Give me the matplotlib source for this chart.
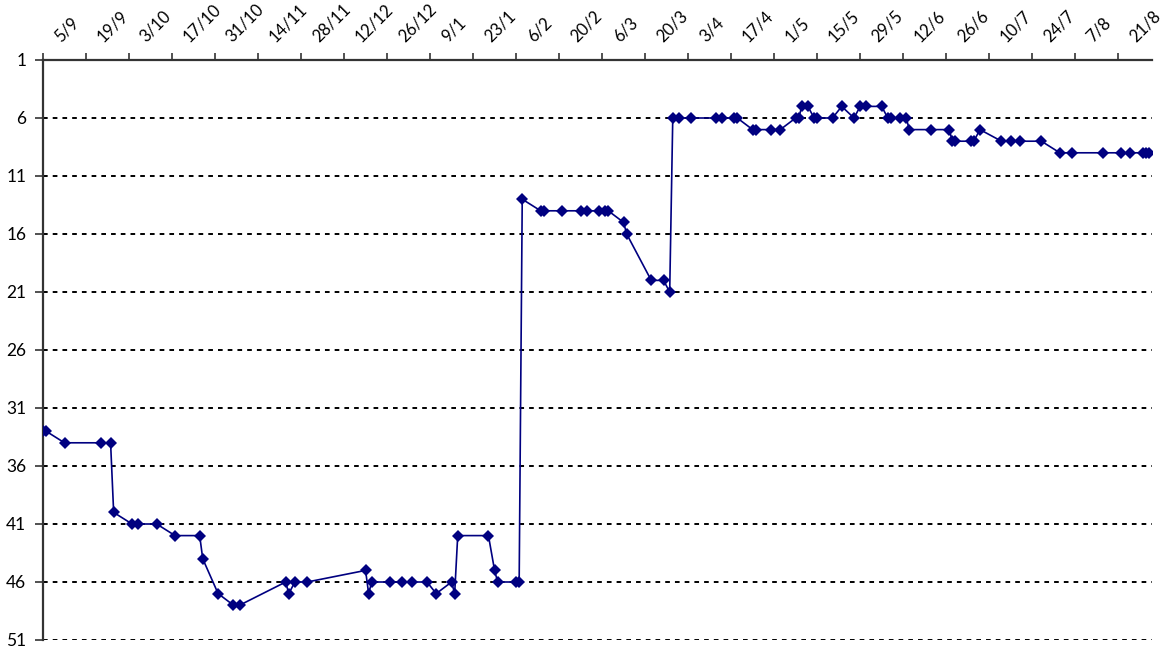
import pandas as pd
import matplotlib
matplotlib.use("Agg")
import matplotlib.pyplot as plt
import matplotlib.transforms as mtransforms

plt.rcParams["font.family"] = ["Lato", "DejaVu Sans"]

# chart position per date (lower number = better)
dates = [
    "2022-09-05", "2022-09-06", "2022-09-12", "2022-09-24", "2022-09-27", "2022-09-28",
    "2022-10-04", "2022-10-06", "2022-10-12", "2022-10-18", "2022-10-26", "2022-10-27",
    "2022-11-01", "2022-11-06", "2022-11-08", "2022-11-23", "2022-11-24", "2022-11-26",
    "2022-11-30", "2022-12-19", "2022-12-20", "2022-12-21", "2022-12-27", "2022-12-31",
    "2023-01-03", "2023-01-08", "2023-01-11", "2023-01-16", "2023-01-17", "2023-01-18",
    "2023-01-28", "2023-01-30", "2023-01-31", "2023-02-06", "2023-02-07", "2023-02-08",
    "2023-02-14", "2023-02-15", "2023-02-21", "2023-02-27", "2023-03-01", "2023-03-05",
    "2023-03-07", "2023-03-08", "2023-03-13", "2023-03-14", "2023-03-22", "2023-03-26",
    "2023-03-28", "2023-03-29", "2023-03-31", "2023-04-04", "2023-04-12", "2023-04-14",
    "2023-04-18", "2023-04-19", "2023-04-24", "2023-04-25", "2023-04-30", "2023-05-03",
    "2023-05-08", "2023-05-09", "2023-05-10", "2023-05-12", "2023-05-14", "2023-05-15",
    "2023-05-20", "2023-05-23", "2023-05-27", "2023-05-29", "2023-05-31", "2023-06-05",
    "2023-06-07", "2023-06-08", "2023-06-11", "2023-06-13", "2023-06-14", "2023-06-21",
    "2023-06-27", "2023-06-28", "2023-06-29", "2023-07-04", "2023-07-05", "2023-07-07",
    "2023-07-14", "2023-07-17", "2023-07-20", "2023-07-27", "2023-08-02", "2023-08-06",
    "2023-08-16", "2023-08-22", "2023-08-25", "2023-08-29", "2023-08-30", "2023-08-31",
]
positions = [
    33, 33, 34, 34, 34, 40,
    41, 41, 41, 42, 42, 44,
    47, 48, 48, 46, 47, 46,
    46, 45, 47, 46, 46, 46,
    46, 46, 47, 46, 47, 42,
    42, 45, 46, 46, 46, 13,
    14, 14, 14, 14, 14, 14,
    14, 14, 15, 16, 20, 20,
    21, 6, 6, 6, 6, 6,
    6, 6, 7, 7, 7, 7,
    6, 6, 5, 5, 6, 6,
    6, 5, 6, 5, 5, 5,
    6, 6, 6, 6, 7, 7,
    7, 8, 8, 8, 8, 7,
    8, 8, 8, 8, 9, 9,
    9, 9, 9, 9, 9, 9,
]

x_start = "2022-09-05"
x_end = "2023-09-01"
tick_dates = pd.date_range("2022-09-05", "2023-08-21", freq="14D")
tick_labels = [f"{d.day}/{d.month}" for d in tick_dates]
y_ticks = list(range(1, 52, 5))

df = pd.DataFrame({"date": pd.to_datetime(dates), "pos": positions})

fig = plt.figure(figsize=(11.62, 6.51), dpi=100)
ax = fig.add_axes([43 / 1162, 1 - 640 / 651, (1152 - 43) / 1162, 580 / 651])

ax.plot(df["date"], df["pos"], color="#000080", linewidth=1.2,
        marker="D", markersize=6, markeredgewidth=0, zorder=3)

ax.set_xlim(pd.Timestamp(x_start), pd.Timestamp(x_end))
ax.set_ylim(51, 1)
ax.set_yticks(y_ticks)
ax.yaxis.grid(True, color="black", linestyle=(0, (2.4, 2.6)), linewidth=1.4)
ax.set_axisbelow(True)

ax.set_xticks(tick_dates)
ax.set_xticklabels(tick_labels)
ax.xaxis.tick_top()
ax.tick_params(axis="x", direction="out", length=5, width=1.2, color="#333333",
               pad=0, labelsize=12)
ax.tick_params(axis="y", direction="out", length=6, width=1.2, color="#333333",
               pad=6, labelsize=12.5)

# shift the rotated date labels to sit right of their tick, as in the original
offset = mtransforms.ScaledTranslation(14 / 72, 6 / 72, fig.dpi_scale_trans)
for lab in ax.get_xticklabels():
    lab.set_rotation(45)
    lab.set_rotation_mode("anchor")
    lab.set_ha("left")
    lab.set_va("bottom")
    lab.set_transform(lab.get_transform() + offset)

for side in ["right", "bottom"]:
    ax.spines[side].set_visible(False)
ax.spines["left"].set_linewidth(1.6)
ax.spines["left"].set_color("#333333")
ax.spines["top"].set_linewidth(1.6)
ax.spines["top"].set_color("#333333")

fig.savefig("out.png", dpi=100)
